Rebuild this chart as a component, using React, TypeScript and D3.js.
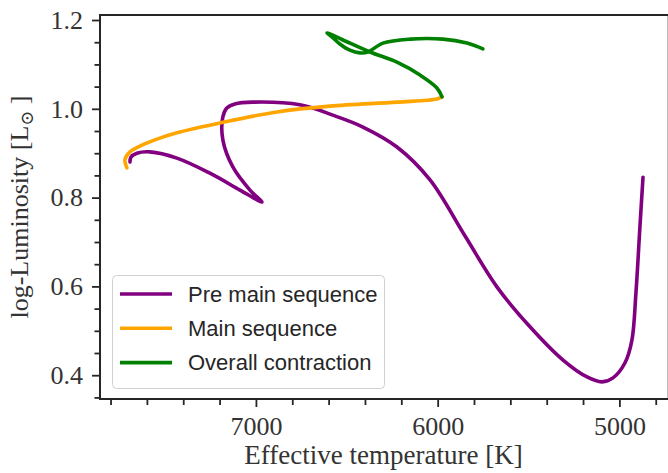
import React, { useEffect, useRef } from 'react';
import * as d3 from 'd3';

// Pre main sequence track (effective temperature in K, log L/Lsun)
const preMainTemp = [
  4870, 4887, 4909, 4931, 4969, 5035, 5096, 5178, 5310, 5492, 5674, 5850, 6042,
  6224, 6411, 6565, 6758, 7017, 7116, 7160, 7182, 7182, 7127, 7033, 6967, 7088,
  7253, 7435, 7583, 7655, 7688, 7693,
];
const preMainLum = [
  0.846, 0.734, 0.585, 0.479, 0.428, 0.394, 0.385, 0.396, 0.434, 0.509, 0.599,
  0.714, 0.84, 0.914, 0.959, 0.984, 1.009, 1.015, 1.011, 1.002, 0.982, 0.93,
  0.869, 0.817, 0.79, 0.817, 0.855, 0.889, 0.903, 0.9, 0.891, 0.88,
];

// Main sequence track
const mainTemp = [7710, 7721, 7693, 7638, 7556, 7435, 7198, 6884, 6593, 6224, 6004, 5976];
const mainLum = [0.867, 0.885, 0.903, 0.916, 0.93, 0.946, 0.968, 0.993, 1.006, 1.015, 1.022, 1.027];

// Overall contraction track
const contractionTemp = [
  5976, 6004, 6097, 6224, 6373, 6521, 6609, 6582, 6538, 6483, 6428, 6384, 6301,
  6152, 5971, 5839, 5751,
];
const contractionLum = [
  1.027, 1.047, 1.076, 1.105, 1.128, 1.155, 1.171, 1.162, 1.146, 1.132, 1.126,
  1.128, 1.148, 1.157, 1.157, 1.148, 1.135,
];

const seriesLabels = ['Pre main sequence', 'Main sequence', 'Overall contraction'];
const seriesColors = ['purple', 'orange', 'green'];

const xMajorTicks = [7000, 6000, 5000];
const xMinorTicks = [7800, 7600, 7400, 7200, 6800, 6600, 6400, 6200, 5800, 5600, 5400, 5200, 4800];
const yMajorTicks = [0.4, 0.6, 0.8, 1.0, 1.2];
const yMinorTicks = [0.35, 0.45, 0.5, 0.55, 0.65, 0.7, 0.75, 0.85, 0.9, 0.95, 1.05, 1.1, 1.15];

interface Pt {
  t: number;
  l: number;
}

const zip = (ts: number[], ls: number[]): Pt[] => ts.map((t, i) => ({ t, l: ls[i] }));

const App: React.FC = () => {
  const chartRef = useRef<SVGSVGElement>(null);

  useEffect(() => {
    const width = 668;
    const height = 473;
    const margin = { top: 15, right: 1, bottom: 74, left: 100 };

    const svg = d3.select(chartRef.current);
    svg.selectAll('*').remove();
    svg.attr('width', width).attr('height', height);

    const x = d3
      .scaleLinear()
      .domain([7858, 4738])
      .range([margin.left, width - margin.right]);
    const y = d3
      .scaleLinear()
      .domain([0.3464, 1.2113])
      .range([height - margin.bottom, margin.top]);

    const textColor = '#262626';
    const serif = "'Liberation Serif', 'DejaVu Serif', serif";

    // minor ticks
    svg
      .append('g')
      .attr('transform', `translate(0,${height - margin.bottom})`)
      .call(d3.axisBottom(x).tickValues(xMinorTicks).tickSize(6).tickFormat(() => ''))
      .call((g) => g.select('.domain').remove())
      .call((g) => g.selectAll('line').attr('stroke', textColor).attr('stroke-width', 1.8));
    svg
      .append('g')
      .attr('transform', `translate(${margin.left},0)`)
      .call(d3.axisLeft(y).tickValues(yMinorTicks).tickSize(5.5).tickFormat(() => ''))
      .call((g) => g.select('.domain').remove())
      .call((g) => g.selectAll('line').attr('stroke', textColor).attr('stroke-width', 1.8));

    // major ticks
    svg
      .append('g')
      .attr('transform', `translate(0,${height - margin.bottom})`)
      .call(
        d3.axisBottom(x).tickValues(xMajorTicks).tickSize(8).tickPadding(10).tickFormat(d3.format('d'))
      )
      .call((g) => g.select('.domain').remove())
      .call((g) => g.selectAll('line').attr('stroke', textColor).attr('stroke-width', 1.8))
      .call((g) =>
        g.selectAll('text').attr('fill', '#333').attr('font-size', 26).attr('font-family', serif)
      );
    svg
      .append('g')
      .attr('transform', `translate(${margin.left},0)`)
      .call(
        d3.axisLeft(y).tickValues(yMajorTicks).tickSize(8).tickPadding(9).tickFormat(d3.format('.1f'))
      )
      .call((g) => g.select('.domain').remove())
      .call((g) => g.selectAll('line').attr('stroke', textColor).attr('stroke-width', 1.8))
      .call((g) =>
        g.selectAll('text').attr('fill', '#333').attr('font-size', 26).attr('font-family', serif)
      );

    // tracks
    const line = d3
      .line<Pt>()
      .x((d) => x(d.t))
      .y((d) => y(d.l))
      .curve(d3.curveCatmullRom.alpha(0.5));

    const tracks = [
      zip(preMainTemp, preMainLum),
      zip(mainTemp, mainLum),
      zip(contractionTemp, contractionLum),
    ];
    tracks.forEach((data, i) => {
      svg
        .append('path')
        .datum(data)
        .attr('fill', 'none')
        .attr('stroke', seriesColors[i])
        .attr('stroke-width', 3.6)
        .attr('stroke-linecap', 'round')
        .attr('stroke-linejoin', 'round')
        .attr('d', line);
    });

    // spines
    const x0 = margin.left;
    const x1 = width - margin.right;
    const y0 = margin.top;
    const y1 = height - margin.bottom;
    svg
      .append('line')
      .attr('x1', x1 + 0.5)
      .attr('x2', x1 + 0.5)
      .attr('y1', y0)
      .attr('y2', y1)
      .attr('stroke', '#bbb')
      .attr('stroke-width', 1);
    svg
      .append('path')
      .attr('d', `M${x1 + 1},${y0}H${x0}V${y1}H${x1 + 1}`)
      .attr('fill', 'none')
      .attr('stroke', textColor)
      .attr('stroke-width', 2);

    // legend
    const legend = svg.append('g');
    legend
      .append('rect')
      .attr('x', 112.5)
      .attr('y', 275.5)
      .attr('width', 272)
      .attr('height', 113)
      .attr('rx', 4)
      .attr('fill', 'white')
      .attr('fill-opacity', 0.8)
      .attr('stroke', '#d0d0d0')
      .attr('stroke-width', 1);
    seriesLabels.forEach((label, i) => {
      const cy = 294 + i * 34.3;
      legend
        .append('line')
        .attr('x1', 120)
        .attr('x2', 172)
        .attr('y1', cy)
        .attr('y2', cy)
        .attr('stroke', seriesColors[i])
        .attr('stroke-width', 3.6);
      legend
        .append('text')
        .attr('x', 188)
        .attr('y', cy)
        .attr('dy', '0.35em')
        .attr('fill', textColor)
        .attr('font-size', 22)
        .attr('font-family', "'Liberation Sans', Arial, sans-serif")
        .text(label);
    });

    // axis labels
    svg
      .append('text')
      .attr('x', (x0 + x1) / 2)
      .attr('y', 464)
      .attr('text-anchor', 'middle')
      .attr('fill', '#333')
      .attr('font-size', 27)
      .attr('font-family', serif)
      .text('Effective temperature [K]');

    const ylab = svg
      .append('text')
      .attr('transform', `translate(28,${(y0 + y1) / 2}) rotate(-90)`)
      .attr('text-anchor', 'middle')
      .attr('fill', '#333')
      .attr('font-size', 26)
      .attr('font-family', serif);
    ylab.append('tspan').text('log-Luminosity [L');
    ylab.append('tspan').attr('font-size', 18).attr('dy', 5).text('\u2299');
    ylab.append('tspan').attr('dy', -5).text(' ]');
  }, []);

  return (
    <svg
      ref={chartRef}
      style={{ position: 'absolute', left: 0, top: 0, display: 'block', background: 'white' }}
    ></svg>
  );
};

export default App;
